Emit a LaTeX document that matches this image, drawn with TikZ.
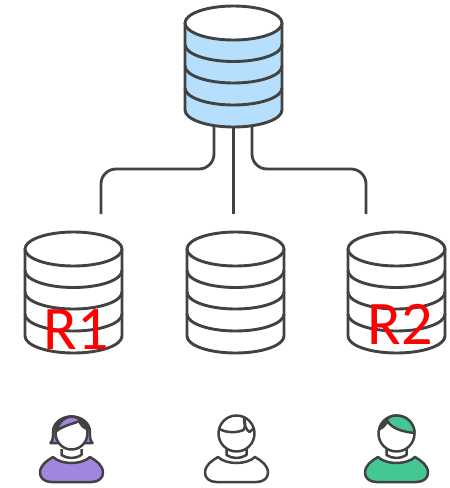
\documentclass[tikz,border=0pt]{standalone}
\usepackage{fontspec}
\setmainfont{Carlito}
\definecolor{ink}{HTML}{424242}
\definecolor{dbblue}{HTML}{B5DFFC}
\definecolor{hairpurple}{HTML}{A285DF}
\definecolor{hairgreen}{HTML}{45C793}
\tikzset{
  ln/.style={draw=ink,line width=2.9pt,line join=round},
  pl/.style={draw=ink,line width=2.5pt,line join=round},
  conn/.style={draw=ink,line width=2.8pt,rounded corners=15pt},
  rlabel/.style={text=red,anchor=base,inner sep=0pt,font=\fontsize{62}{62}\selectfont},
  pics/dbcyl/.style={code={
    \path[ln,fill=#1] (-48.5,0) -- (-48.5,87) arc[start angle=180,end angle=0,x radius=48.5,y radius=17] -- (48.5,0) -- cycle;
    \foreach \o in {21.5,43,65}{
      \draw[ln] (-48.5,\o) arc[start angle=180,end angle=0,x radius=48.5,y radius=17];
    }
    \path[ln,fill=white] (0,0) ellipse[x radius=48.5,y radius=17];
  }},
  pics/bodypart/.style={code={
    \path[pl,fill=#1]
      (-18.5,22) .. controls (-25,26) and (-31.5,30) .. (-31.5,38)
      .. controls (-31.5,43) and (-27,47) .. (-20,47)
      -- (20,47) .. controls (27,47) and (31.5,43) .. (31.5,38)
      .. controls (31.5,30) and (25,26) .. (18.5,22)
      .. controls (10,30) and (-10,30) .. (-18.5,22) -- cycle;
    \draw[pl] (-10,14) -- (-10,20) .. controls (-4,24) and (4,24) .. (10,20) -- (10,14);
  }}
}
\begin{document}
\begin{tikzpicture}[x=1pt,y=-1pt]
\useasboundingbox (0,0) rectangle (450,488);
% connectors
\coordinate (tl) at (214,120);
\coordinate (tm) at (233.5,120);
\coordinate (tr) at (252,120);
\coordinate (el) at (101,214);
\coordinate (em) at (233.5,214);
\coordinate (er) at (366,214);
\draw[conn] (tl) |- (150,169) -| (el);
\draw[conn] (tm) -- (em);
\draw[conn] (tr) |- (310,169) -| (er);
% databases
\coordinate (top) at (233.5,23);
\coordinate (dbl) at (73.5,249);
\coordinate (dbm) at (235.5,249);
\coordinate (dbr) at (396.5,249);
\pic at (top) {dbcyl=dbblue};
\pic at (dbl) {dbcyl=white};
\pic at (dbm) {dbcyl=white};
\pic at (dbr) {dbcyl=white};
% labels
\node[rlabel] (r1) at (76,349) {R1};
\node[rlabel] (r2) at (400,344) {R2};
% purple user
\begin{scope}[shift={(71.5,435)}]
  \path[pl,fill=hairpurple] (-21,8) .. controls (-18,5) and (-18.5,1) .. (-18.5,-3)
     .. controls (-18.5,-12) and (-10,-18.5) .. (0,-18.5)
     .. controls (10,-18.5) and (18.5,-12) .. (18.5,-3)
     .. controls (18.5,1) and (18,5) .. (21,8) -- cycle;
  \path[pl,fill=white] (0,-2) ellipse[x radius=16,y radius=16.5];
  \path[pl,fill=hairpurple] (-15,-4) .. controls (-13,-13) and (-6,-18.5) .. (0,-18.5)
     .. controls (7,-18.5) and (13,-13) .. (16,-6)
     .. controls (12,-7) and (9,-10) .. (8,-14)
     .. controls (1,-11) and (-9,-9) .. (-15,-4) -- cycle;
  \pic {bodypart=hairpurple};
\end{scope}
% white user
\begin{scope}[shift={(236.5,435)}]
  \path[pl,fill=white] (0,-1.5) circle[radius=18];
  \draw[pl] (-17,-6) .. controls (-10,-2) and (0,-2) .. (7,-5) .. controls (9,-8) and (9,-13) .. (7.5,-17);
  \draw[pl] (7.5,-15) .. controls (8,-9) and (10,-5) .. (13,-3) .. controls (15,-4) and (16,-6) .. (17.5,-7);
  \pic {bodypart=white};
\end{scope}
% green user
\begin{scope}[shift={(396.5,435)}]
  \path[pl,fill=white] (0,-1.5) circle[radius=18];
  \path[pl,fill=hairgreen] (-17,-6) .. controls (-14,-14) and (-8,-19.5) .. (0,-19.5)
     .. controls (10,-19.5) and (18,-12) .. (18,-2)
     .. controls (8,-3) and (-5,-6) .. (-9,-14)
     .. controls (-11,-10) and (-14,-7) .. (-17,-6) -- cycle;
  \pic {bodypart=hairgreen};
\end{scope}
\end{tikzpicture}
\end{document}
